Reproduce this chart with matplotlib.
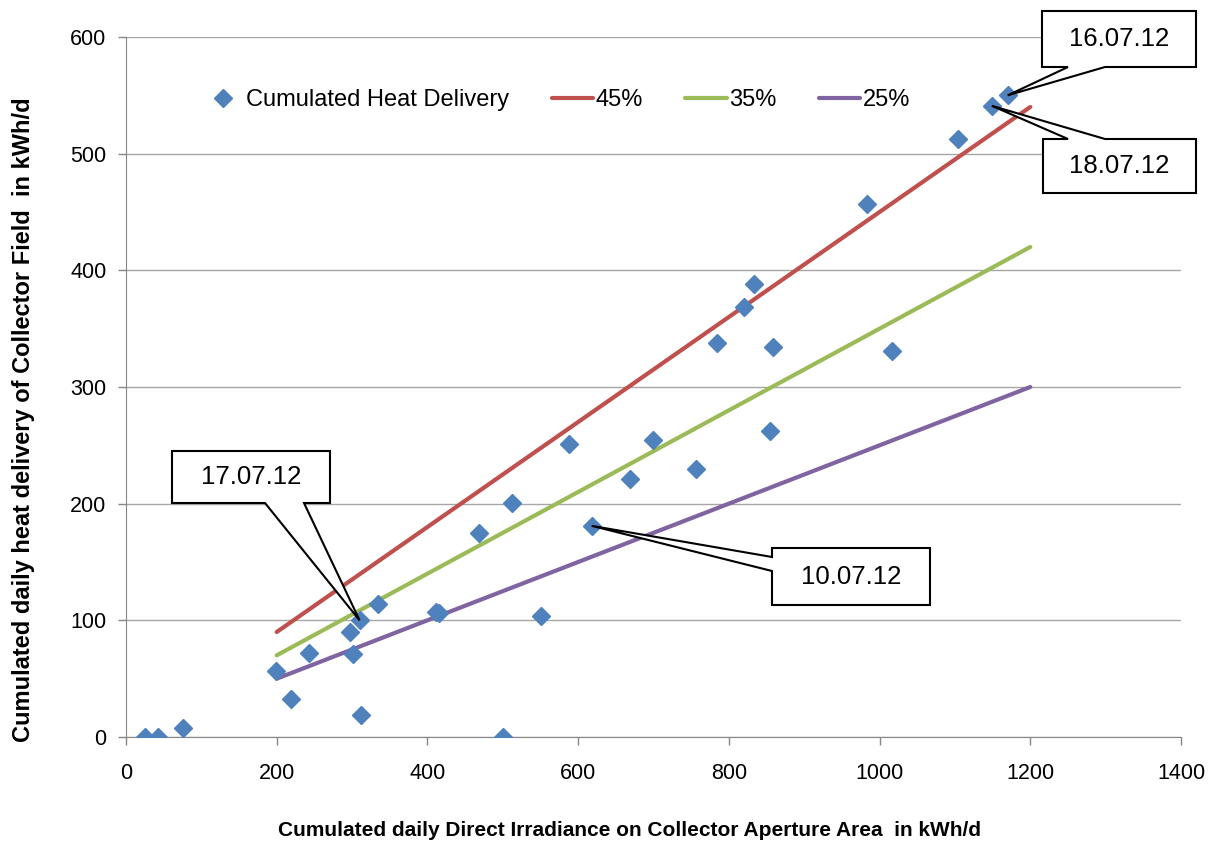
import matplotlib
matplotlib.use("Agg")
import matplotlib.pyplot as plt
from matplotlib.patches import Polygon

plt.rcParams['font.family'] = ['Liberation Sans', 'DejaVu Sans']

# daily values
irradiance = [25, 42, 76, 199, 219, 243, 297, 301, 310, 312, 334, 411, 416,
              468, 500, 512, 551, 588, 618, 669, 699, 756, 784, 820, 833,
              855, 858, 983, 1016, 1104, 1149, 1170]
heat = [0, 0, 8, 57, 33, 72, 90, 71, 100, 19, 114, 107, 106,
        175, 0, 201, 104, 251, 181, 221, 255, 230, 338, 369, 388,
        262, 334, 457, 331, 513, 541, 550]

# efficiency reference lines
line_x = [200, 1200]
eff_labels = ['45%', '35%', '25%']
eff_values = [0.45, 0.35, 0.25]
eff_colors = ['#C0504D', '#9BBB59', '#8064A2']

# callouts: label, (x, y) of point, box in image pixels (left, top, right, bottom), edge, pointer base
callouts = [
    ('16.07.12', (1170, 550), (1042, 11, 1196, 67), 'bottom', (1068, 1105)),
    ('18.07.12', (1149, 541), (1043, 139, 1196, 193), 'top', (1068, 1105)),
    ('17.07.12', (310, 100), (172, 451, 330, 503), 'bottom', (265, 304)),
    ('10.07.12', (618, 181), (772, 548, 930, 605), 'left', (557, 571)),
]

W, H = 1214, 841
fig = plt.figure(figsize=(W / 100, H / 100), dpi=100)
ax = fig.add_axes([126 / W, 1 - 737 / H, (1181 - 126) / W, 700 / H])

ax.plot(irradiance, heat, linestyle='none', marker='D', markersize=9,
        color='#4F81BD', label='Cumulated Heat Delivery', zorder=4)
for lab, eff, col in zip(eff_labels, eff_values, eff_colors):
    ax.plot(line_x, [eff * v for v in line_x], color=col, linewidth=3,
            solid_capstyle='round', label=lab, zorder=3)

ax.set_xlim(0, 1400)
ax.set_ylim(0, 600)
ax.set_xticks(range(0, 1401, 200))
ax.set_yticks(range(0, 601, 100))
ax.grid(True, axis='y', color='#A6A6A6', linewidth=1)
ax.set_axisbelow(True)
for s in ['top', 'right']:
    ax.spines[s].set_visible(False)
for s in ['left', 'bottom']:
    ax.spines[s].set_color('#868686')
ax.tick_params(colors='#868686', labelcolor='black', labelsize=15.5, length=6, width=1)
ax.tick_params(axis='x', pad=13)
ax.tick_params(axis='y', pad=8)

ax.legend(loc='center left', bbox_to_anchor=(0.0725, 0.91), ncol=4, frameon=False,
          fontsize=17, handlelength=1.75, handletextpad=0.1, columnspacing=1.8,
          borderaxespad=0, borderpad=0)

fig.text(630 / W, 1 - 830 / H, 'Cumulated daily Direct Irradiance on Collector Aperture Area  in kWh/d',
         ha='center', va='center', fontsize=15, fontweight='bold')
fig.text(24 / W, 1 - 420 / H, 'Cumulated daily heat delivery of Collector Field  in kWh/d',
         ha='center', va='center', rotation=90, fontsize=17, fontweight='bold')


def px(x, y):
    return (x / W, 1 - y / H)


to_fig = fig.transFigure.inverted()
for label, pt, (x0, y0, x1, y1), edge, (b0, b1) in callouts:
    tip = to_fig.transform(ax.transData.transform(pt))
    if edge == 'bottom':
        verts = [px(x0, y0), px(x1, y0), px(x1, y1), px(b1, y1), tuple(tip), px(b0, y1), px(x0, y1)]
    elif edge == 'top':
        verts = [px(x0, y0), px(b0, y0), tuple(tip), px(b1, y0), px(x1, y0), px(x1, y1), px(x0, y1)]
    else:
        verts = [px(x0, y0), px(x1, y0), px(x1, y1), px(x0, y1), px(x0, b1), tuple(tip), px(x0, b0)]
    fig.add_artist(Polygon(verts, closed=True, facecolor='white', edgecolor='black',
                           linewidth=1.5, transform=fig.transFigure, zorder=5))
    cx, cy = px((x0 + x1) / 2, (y0 + y1) / 2)
    fig.text(cx, cy, label, ha='center', va='center', fontsize=18.5, zorder=6)

fig.savefig('out.png', dpi=100)
